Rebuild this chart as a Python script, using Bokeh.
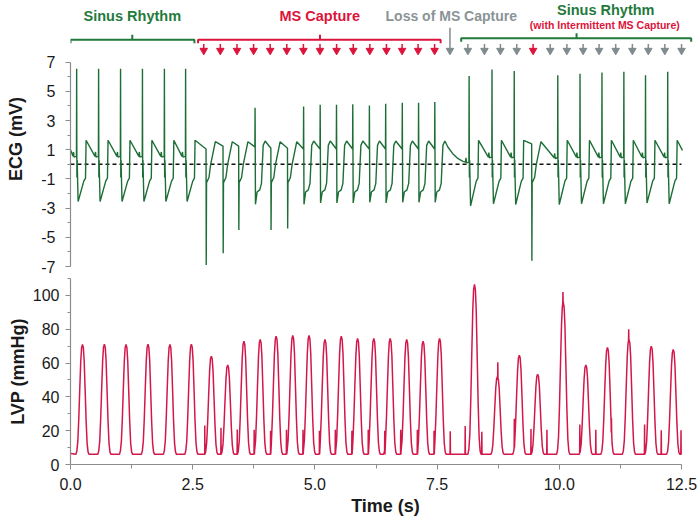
from bokeh.plotting import figure
from bokeh.layouts import column
from bokeh.models import FixedTicker, NumeralTickFormatter
from bokeh.core.properties import value
from bokeh.embed import file_html
from bokeh.resources import INLINE

# ---------------- DATA ----------------
# ECG: one entry per beat (spike time s, kind, spike top mV, trough mV, level just before spike mV)
ecg_spike_t = [0.122, 0.571, 1.020, 1.468, 1.917, 2.351,
               2.773, 3.120, 3.440, 3.772, 4.099, 4.439, 4.765, 5.104, 5.438,
               5.771, 6.111, 6.444, 6.784, 7.117, 7.449,
               8.151, 8.619, 9.074, 9.435, 9.965, 10.420, 10.869, 11.317, 11.760, 12.214]
ecg_kind = ["S", "S", "S", "S", "S", "S",
            "C", "C", "C", "P", "C", "C", "P", "P", "P",
            "P", "P", "P", "P", "P", "P",
            "S", "S", "S", "C", "S", "S", "S", "S", "S", "S"]
ecg_up = [6.55, 6.55, 6.55, 6.55, 6.55, 6.55,
          None, None, None, 3.88, None, None, 3.97, 4.09, 4.09,
          4.11, 4.04, 4.16, 4.22, 4.22, 4.27,
          6.05, 6.5, 6.4, None, 6.1, 6.2, 6.3, 6.35, 6.1, 6.35]
ecg_down = [-2.55, -2.55, -2.55, -2.55, -2.55, -2.55,
            -6.9, -6.1, -4.5, -2.74, -4.5, -4.4, -2.74, -2.65, -2.65,
            -2.65, -2.6, -2.65, -2.6, -2.6, -2.6,
            -2.85, -2.7, -2.75, -6.6, -2.75, -2.7, -2.7, -2.7, -2.65, -2.7]
ecg_pre = [0.55, 0.55, 0.55, 0.55, 0.55, 0.55,
           1.05, 1.25, 1.25, 1.2, 1.1, 1.1, 1.05, 1.05, 1.05,
           1.05, 1.05, 1.05, 1.05, 1.05, 1.05,
           0.15, 0.5, 0.5, 1.4, 0.45, 0.5, 0.5, 0.5, 0.5, 0.5]
ecg_start_t, ecg_start_v = 0.0, 1.0
ecg_end_t, ecg_end_v = 12.52, 0.96
pause_t = [7.72, 7.82, 7.93, 8.03]          # decay during loss of capture
pause_v = [1.19, 0.73, 0.39, 0.21]

# LVP: one entry per beat (peak time s, peak mmHg)
lvp_peak_t = [0.245, 0.693, 1.136, 1.585, 2.034, 2.473,
              2.881, 3.216, 3.548, 3.881, 4.207, 4.547, 4.880, 5.206, 5.540,
              5.873, 6.205, 6.540, 6.878, 7.213, 7.551,
              8.265, 8.735, 9.182, 9.557, 10.080, 10.543, 10.985, 11.425, 11.882, 12.331]
lvp_peak_v = [71, 71.2, 71, 71.2, 71, 71.2,
              64.1, 58.8, 73, 74, 75.9, 76.3, 76.3, 74, 75.9,
              74.6, 74.6, 74.6, 74, 73, 74.6,
              106.5, 52, 64.7, 53.4, 96, 58.8, 69.2, 74, 70, 68]
lvp_base = 6.0
lvp_start_t, lvp_start_v = 0.0, 6.5
lvp_end_t, lvp_end_v = 12.5, 6.0
# stimulus artefacts on the LVP trace (time s, foot mmHg, top mmHg)
art_t = [2.747, 3.079, 3.412, 3.758, 4.093, 4.419, 4.757, 5.092, 5.418, 5.757,
         6.091, 6.429, 6.756, 7.096, 7.437, 7.769, 8.075, 8.415, 8.742, 9.080,
         9.421, 9.747, 10.075, 10.420, 10.747, 11.067, 11.420, 11.745, 12.086, 12.490]
art_bottom = [6, 6, 6, 6, 6, 6, 6, 6, 6, 6,
              6, 6, 6, 6, 6, 6, 6, 6, 50, 10,
              6, 6, 95, 7, 6, 19, 73, 6, 6, 6]
art_top = [23, 21.7, 20.7, 20.5, 20, 20.5, 20.5, 20, 20.5, 20,
           20.5, 20, 20.5, 20.5, 20, 19.6, 22.7, 19.3, 60.5, 27,
           21, 20.5, 102, 23.7, 20.5, 27.4, 80, 23.6, 20.3, 20.3]

# annotations
label_text = ["Sinus Rhythm", "MS Capture", "Loss of MS Capture", "Sinus Rhythm"]
label_t = [1.264, 5.10, 7.79, 10.95]
sub_text = ["(with Intermittent MS Capture)"]
sub_t = [10.93]
bracket_start = [0.0, 2.61, 7.993]
bracket_end = [2.535, 7.572, 12.698]
bracket_mid = [1.264, 5.104, 10.353]
red_arrow_t = [2.726, 3.065, 3.406, 3.746, 4.085, 4.425, 4.765, 5.104, 5.444,
               5.785, 6.124, 6.464, 6.784, 7.111, 7.449]
gray_arrow_t = [8.130, 8.469, 8.795, 9.130, 9.814, 10.155, 10.487, 10.814,
                11.154, 11.495, 11.821, 12.159, 12.501]
red2_arrow_t = [9.464]
loss_arrow_t = [7.763]

ecg_ticks = [-7, -5, -3, -1, 1, 3, 5, 7]
ecg_minor = [-6, -4, -2, 0, 2, 4, 6]
lvp_ticks = [0, 20, 40, 60, 80, 100]
lvp_minor = [10, 30, 50, 70, 90, 110]
time_ticks = [0, 2.5, 5, 7.5, 10, 12.5]
time_minor = [1.25, 3.75, 6.25, 8.75, 11.25]

# ---------------- build traces from beat data ----------------
def ecg_beat(kind, t, up, down, pre):
    if kind == "S":
        rel = [(-0.07, pre), (-0.06, pre + 0.3), (-0.05, pre - 0.05), (0.0, pre),
               (0.004, up), (0.009, -0.9), (0.014, 0.3), (0.034, down),
               (0.15, -1.15), (0.185, -0.95), (0.197, 1.65)]
    elif kind == "C":
        rel = [(0.0, pre), (0.004, down), (0.010, -1.25), (0.06, -0.9),
               (0.095, 0.0), (0.19, 1.55)]
    else:
        rel = [(0.0, pre), (0.004, up), (0.012, down), (0.045, -1.9),
               (0.10, -1.75), (0.135, -1.3), (0.17, 1.3), (0.21, 1.6)]
    return [(t + dt, v) for dt, v in rel]

pts = [(ecg_start_t, ecg_start_v), (ecg_end_t, ecg_end_v)]
pts += list(zip(pause_t, pause_v))
for k, t, u, d, pr in zip(ecg_kind, ecg_spike_t, ecg_up, ecg_down, ecg_pre):
    pts += ecg_beat(k, t, u, d, pr)
pts.sort(key=lambda q: q[0])
ecg_x = [q[0] for q in pts]
ecg_y = [q[1] for q in pts]

lvp_shape_dt = [-0.135, -0.115, -0.095, -0.075, -0.055, -0.035, -0.018, 0.0,
                0.018, 0.035, 0.055, 0.075, 0.095, 0.115, 0.135]
lvp_shape_f = [0.0, 0.03, 0.12, 0.33, 0.6, 0.85, 0.97, 1.0,
               0.97, 0.85, 0.58, 0.3, 0.1, 0.02, 0.0]
lp = [(lvp_start_t, lvp_start_v), (lvp_end_t, lvp_end_v)]
for t, pk in zip(lvp_peak_t, lvp_peak_v):
    for dt, f in zip(lvp_shape_dt, lvp_shape_f):
        lp.append((t + dt, lvp_base + f * (pk - lvp_base)))
for t, b, tp in zip(art_t, art_bottom, art_top):
    lp += [(t - 0.004, b), (t, tp), (t + 0.004, b)]
lp.sort(key=lambda q: q[0])
lvp_x = [q[0] for q in lp]
lvp_y = [q[1] for q in lp]

# ---------------- layout / style ----------------
FONT = "Liberation Sans"
GREEN = "#1f7a3c"
ECG_COL = "#1d6e36"
RED = "#dc143c"
LVP_COL = "#d2184a"
GRAY = "#8a9496"
GRAY_ARR = "#7f8b8d"
AXIS_COL = "#8c8c8c"

W = 700
LEFT = 70
H1 = 277
H2 = 244
X_END = 12.5 * (W - LEFT) / 611.0
PX7, PXM7 = 61.7, 266.0                  # pixel rows of +7 / -7 inside the top figure
PPM = (PXM7 - PX7) / 14.0
Y1_HI = 7 + PX7 / PPM
Y1_LO = -7 - (H1 - PXM7) / PPM

def yv(pix):  # figure pixel row -> mV units of top panel
    return Y1_HI - pix / PPM

def style_axis(ax):
    ax.axis_line_color = AXIS_COL
    ax.axis_line_width = 1.2
    ax.major_tick_line_color = AXIS_COL
    ax.minor_tick_line_color = AXIS_COL
    ax.major_tick_in = 0
    ax.minor_tick_in = 0
    ax.major_tick_out = 5
    ax.minor_tick_out = 3
    ax.major_label_text_font = FONT
    ax.major_label_text_font_size = "16px"
    ax.major_label_text_color = "#1a1a1a"
    ax.axis_label_text_font = FONT
    ax.axis_label_text_font_size = "18px"
    ax.axis_label_text_font_style = "bold"
    ax.axis_label_text_color = "#1a1a1a"

p1 = figure(width=W, height=H1, x_range=(0, X_END), y_range=(Y1_LO, Y1_HI),
            output_backend="svg", toolbar_location=None, x_axis_location=None,
            min_border_left=LEFT, min_border_right=0, min_border_top=0, min_border_bottom=0)
p1.grid.visible = False
p1.outline_line_color = None
ya = p1.yaxis[0]
ya.ticker = FixedTicker(ticks=ecg_ticks, minor_ticks=ecg_minor)
ya.major_label_overrides = {t: str(t) for t in ecg_ticks}
ya.bounds = (min(ecg_ticks), max(ecg_ticks))
ya.axis_label = "ECG (mV)"
style_axis(ya)
ya.major_label_standoff = 10
ya.axis_label_standoff = 12

p1.segment(x0=[0], y0=[0], x1=[12.5], y1=[0], line_color="#111111",
           line_width=1.5, line_dash="4 3")
p1.line(ecg_x, ecg_y, line_color=ECG_COL, line_width=1.4)

# titles
cols = [GREEN, RED, GRAY, GREEN]
sizes = ["14.5px", "14.5px", "14px", "14.5px"]
rows = [15, 15, 15, 9.5]
for txt, t, c, s, r in zip(label_text, label_t, cols, sizes, rows):
    p1.text(x=[t], y=[yv(r)], text=[txt], text_font=value(FONT), text_font_style="bold",
            text_font_size=s, text_color=c, text_align="center", text_baseline="middle")
p1.text(x=sub_t, y=[yv(24)], text=sub_text, text_font=value(FONT), text_font_style="bold",
        text_font_size="10.5px", text_color=RED, text_align="center", text_baseline="middle")

# brackets
bcols = [GREEN, RED, GREEN]
blines = [39.3, 39.3, 37.7]
for x0, x1, xm, c, r in zip(bracket_start, bracket_end, bracket_mid, bcols, blines):
    p1.line([x0, x0, x1, x1], [yv(r + 3.5), yv(r), yv(r), yv(r + 3.5)],
            line_color=c, line_width=2)
    p1.segment(x0=[xm], y0=[yv(r)], x1=[xm], y1=[yv(r - 5)], line_color=c, line_width=2)

# stimulus arrows
def arrows(ts, c, top_pix):
    p1.segment(x0=ts, y0=[yv(top_pix)] * len(ts), x1=ts, y1=[yv(48.5)] * len(ts),
               line_color=c, line_width=1.5)
    p1.scatter(x=ts, y=[yv(50)] * len(ts), marker="inverted_triangle", size=7.5,
               fill_color=c, line_color=c)

arrows(red_arrow_t, RED, 43.5)
arrows(gray_arrow_t, GRAY_ARR, 43.5)
arrows(red2_arrow_t, RED, 43.5)
arrows(loss_arrow_t, GRAY_ARR, 27.3)

p2 = figure(width=W, height=H2, x_range=p1.x_range, y_range=(0, 110),
            output_backend="svg", toolbar_location=None,
            min_border_left=LEFT, min_border_right=0, min_border_top=1, min_border_bottom=57)
p2.grid.visible = False
p2.outline_line_color = None
yb = p2.yaxis[0]
yb.ticker = FixedTicker(ticks=lvp_ticks, minor_ticks=lvp_minor)
yb.axis_label = "LVP (mmHg)"
style_axis(yb)
yb.major_label_standoff = 6
yb.axis_label_standoff = 2
xb = p2.xaxis[0]
xb.ticker = FixedTicker(ticks=time_ticks, minor_ticks=time_minor)
xb.formatter = NumeralTickFormatter(format="0.0")
xb.bounds = (0, 12.5)
xb.axis_label = "Time (s)"
style_axis(xb)
xb.minor_tick_out = 4
xb.major_label_standoff = 8
xb.axis_label_standoff = 3

p2.line(lvp_x, lvp_y, line_color=LVP_COL, line_width=1.5)

layout = column(p1, p2, spacing=0)
open("out.html", "w").write(file_html(layout, INLINE))
